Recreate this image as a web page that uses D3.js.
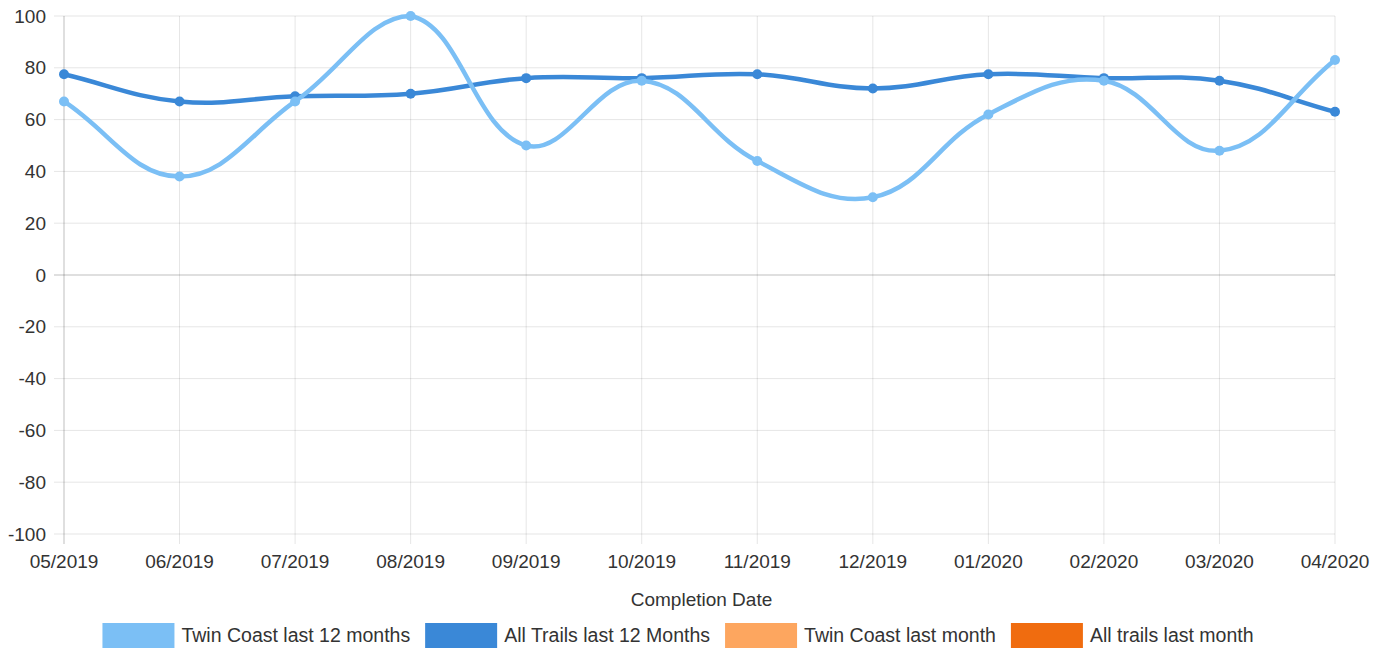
<!DOCTYPE html>
<html>
<head>
<meta charset="utf-8">
<script src="https://cdn.jsdelivr.net/npm/d3@7"></script>
<style>
  body { margin: 0; background: #fff; }
  svg { display: block; font-family: "Liberation Sans", Arial, sans-serif; }
</style>
</head>
<body>
<div id="chart"></div>
<script>
// data
var months = ["05/2019", "06/2019", "07/2019", "08/2019", "09/2019", "10/2019",
              "11/2019", "12/2019", "01/2020", "02/2020", "03/2020", "04/2020"];
var twinCoast12 = [67, 38, 67, 100, 50, 75, 44, 30, 62, 75, 48, 83];
var allTrails12 = [77.5, 67, 69, 70, 76, 76, 77.5, 72, 77.5, 76, 75, 63];
var yTicks = [100, 80, 60, 40, 20, 0, -20, -40, -60, -80, -100];
var legendLabels = ["Twin Coast last 12 months", "All Trails last 12 Months",
                    "Twin Coast last month", "All trails last month"];
var legendColors = ["#7bbff5", "#3a88d7", "#fda65f", "#f06c0f"];

var W = 1388, H = 650;
var margin = {top: 16, right: 53, bottom: 116, left: 64};
var width = W - margin.left - margin.right;
var height = H - margin.top - margin.bottom;
var fontSize = 19;

var svg = d3.select("#chart").append("svg")
    .attr("width", W)
    .attr("height", H);

var g = svg.append("g")
    .attr("transform", "translate(" + margin.left + "," + margin.top + ")");

var x = d3.scalePoint()
    .domain(months)
    .range([0, width]);

var y = d3.scaleLinear()
    .domain([-100, 100])
    .range([height, 0]);

// horizontal grid + y labels
g.selectAll(".hgrid")
    .data(yTicks)
    .enter().append("line")
    .attr("x1", -10).attr("x2", width)
    .attr("y1", function(d) { return y(d); })
    .attr("y2", function(d) { return y(d); })
    .attr("stroke", function(d) { return d === 0 ? "rgba(0,0,0,0.25)" : "rgba(0,0,0,0.1)"; })
    .attr("stroke-width", 1);

g.selectAll(".ylab")
    .data(yTicks)
    .enter().append("text")
    .attr("x", -18)
    .attr("y", function(d) { return y(d); })
    .attr("dy", "0.35em")
    .attr("text-anchor", "end")
    .attr("font-size", fontSize)
    .attr("fill", "#333")
    .text(function(d) { return d; });

// vertical grid + x labels
g.selectAll(".vgrid")
    .data(months)
    .enter().append("line")
    .attr("x1", function(d) { return x(d); })
    .attr("x2", function(d) { return x(d); })
    .attr("y1", 0).attr("y2", height + 10)
    .attr("stroke", function(d, i) { return i === 0 ? "rgba(0,0,0,0.25)" : "rgba(0,0,0,0.1)"; })
    .attr("stroke-width", 1);

g.selectAll(".xlab")
    .data(months)
    .enter().append("text")
    .attr("x", function(d) { return x(d); })
    .attr("y", height + 27)
    .attr("dy", "0.35em")
    .attr("text-anchor", "middle")
    .attr("font-size", fontSize)
    .attr("fill", "#333")
    .text(function(d) { return d; });

g.append("text")
    .attr("x", width / 2 + 2)
    .attr("y", height + 65)
    .attr("dy", "0.35em")
    .attr("text-anchor", "middle")
    .attr("font-size", fontSize)
    .attr("fill", "#333")
    .text("Completion Date");

// chart.js style bezier spline (tension 0.4, control points capped to area)
function splinePath(pts) {
    var t = 0.4, p = d3.path();
    var cps = pts.map(function(cur, i) {
        var prev = pts[i - 1] || cur, next = pts[i + 1] || cur;
        var d01 = Math.hypot(cur[0] - prev[0], cur[1] - prev[1]);
        var d12 = Math.hypot(next[0] - cur[0], next[1] - cur[1]);
        var s01 = d01 / (d01 + d12) || 0, s12 = d12 / (d01 + d12) || 0;
        var fa = t * s01, fb = t * s12;
        var cap = function(v) { return Math.max(0, Math.min(height, v)); };
        return {
            px: cur[0] - fa * (next[0] - prev[0]), py: cap(cur[1] - fa * (next[1] - prev[1])),
            nx: cur[0] + fb * (next[0] - prev[0]), ny: cap(cur[1] + fb * (next[1] - prev[1]))
        };
    });
    p.moveTo(pts[0][0], pts[0][1]);
    for (var i = 1; i < pts.length; i++) {
        p.bezierCurveTo(cps[i - 1].nx, cps[i - 1].ny, cps[i].px, cps[i].py, pts[i][0], pts[i][1]);
    }
    return p.toString();
}

function drawSeries(values, color) {
    var pts = values.map(function(v, i) { return [x(months[i]), y(v)]; });
    g.append("path")
        .attr("d", splinePath(pts))
        .attr("fill", "none")
        .attr("stroke", color)
        .attr("stroke-width", 4.5);
    g.selectAll(null)
        .data(pts)
        .enter().append("circle")
        .attr("cx", function(d) { return d[0]; })
        .attr("cy", function(d) { return d[1]; })
        .attr("r", 5)
        .attr("fill", color);
}

// chart.js draws the later datasets underneath
drawSeries(allTrails12, legendColors[1]);
drawSeries(twinCoast12, legendColors[0]);

// legend
var legend = svg.append("g");
var boxW = 72, boxH = 25, gap = 7, itemGap = 15;
var cx = 0;
legendLabels.forEach(function(lbl, i) {
    var item = legend.append("g").attr("transform", "translate(" + cx + ",0)");
    item.append("rect")
        .attr("x", 0).attr("y", 0)
        .attr("width", boxW).attr("height", boxH)
        .attr("fill", legendColors[i]);
    var txt = item.append("text")
        .attr("x", boxW + gap)
        .attr("y", boxH / 2)
        .attr("dy", "0.35em")
        .attr("font-size", 19.5)
        .attr("fill", "#333")
        .text(lbl);
    cx += boxW + gap + txt.node().getComputedTextLength() + itemGap;
});
var total = cx - itemGap;
legend.attr("transform", "translate(" + (678 - total / 2) + ",623)");
</script>
</body>
</html>
